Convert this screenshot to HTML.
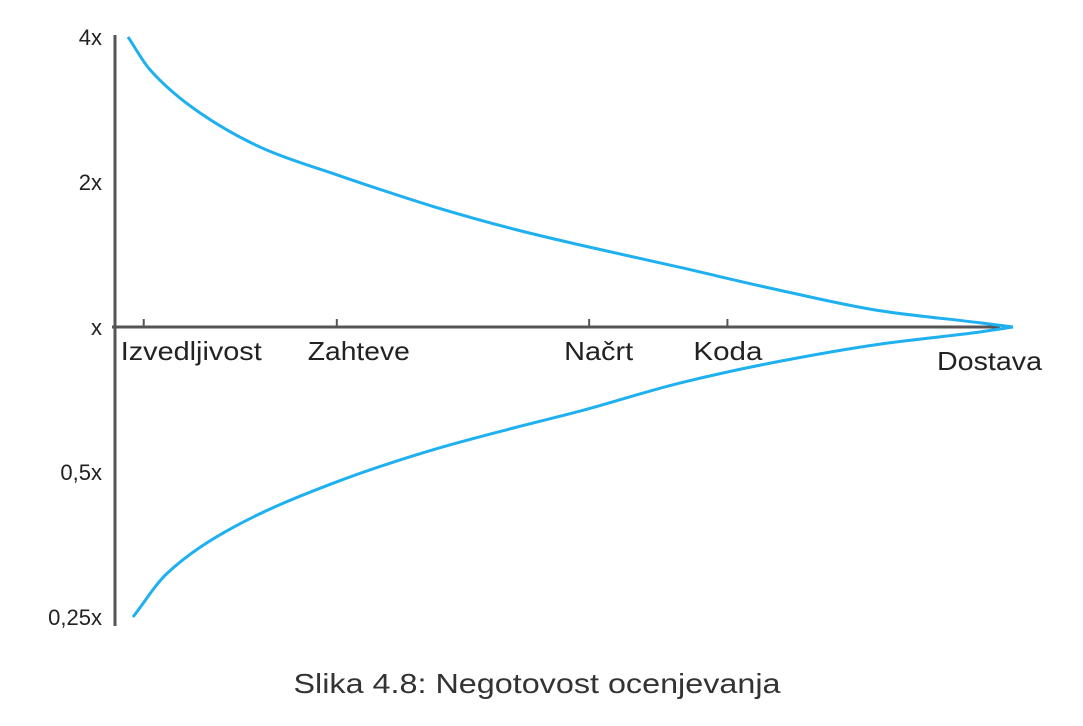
<!DOCTYPE html>
<html><head><meta charset="utf-8"><style>
html,body{margin:0;padding:0;background:#fff;width:1083px;height:726px;overflow:hidden}
svg{display:block;font-family:"Liberation Sans",sans-serif}
</style></head><body>
<svg id="chart" width="1083" height="726" viewBox="0 0 1083 726"></svg>
<script>
const phaseNames = ["Izvedljivost","Zahteve","Načrt","Koda","Dostava"];
const phasePos = [3.2, 24.7, 52.8, 68.2, 100];
const yTickValues = [4, 2, 1, 0.5, 0.25];
const yTickLabels = ["4x","2x","x","0,5x","0,25x"];
const upperT = [1.45, 3.9, 9.5, 16.9, 24.7, 35.4, 44.8, 51.8, 62.9, 74.2, 85.3, 96.4, 100];
const upperV = [4.0, 3.42, 2.78, 2.33, 2.07, 1.78, 1.59, 1.48, 1.33, 1.19, 1.08, 1.02, 1];
const lowerT = [2.0, 5.8, 13.2, 24.3, 35.4, 44.8, 51.8, 62.9, 74.2, 85.3, 96.4, 100];
const lowerV = [0.25, 0.308, 0.384, 0.474, 0.556, 0.620, 0.669, 0.765, 0.850, 0.922, 0.977, 1];

const NS="http://www.w3.org/2000/svg";
const svg=document.getElementById('chart');
const X0=115, X1=1013, Y1=327, PX2=145;
const xs=t=>X0+(X1-X0)*t/100;
const ys=v=>Y1-PX2*Math.log2(v);
function mk(tag,attrs,parent){const e=document.createElementNS(NS,tag);for(const k in attrs)e.setAttribute(k,attrs[k]);(parent||svg).appendChild(e);return e;}

let e=mk('line',{x1:X0,y1:35,x2:X0,y2:626,stroke:'#555','stroke-width':3});


e=mk('line',{x1:X0-3,y1:Y1,x2:1000,y2:Y1,stroke:'#555','stroke-width':3});



yTickValues.forEach((v,i)=>{
  const t=mk('text',{x:102,y:ys(v)+8,'text-anchor':'end','font-size':22,fill:'#222'});
  t.textContent=yTickLabels[i];
  
  
});

const labelOffset=[-23,-29,-25,-34,-76];
const labelWidth=[141,102,69,69,105];
phaseNames.forEach((n,i)=>{
  const x=xs(phasePos[i]);
  const last=i===phaseNames.length-1;
  if(!last){
    const tk=mk('line',{x1:x,y1:Y1-8,x2:x,y2:Y1,stroke:'#555','stroke-width':2});
    
    
  }
  const t=mk('text',{x:x+labelOffset[i],y:last?370:360,'font-size':26,fill:'#222',textLength:labelWidth[i],lengthAdjust:'spacingAndGlyphs'});
  t.textContent=n;
  
  
});

// monotone cubic (Fritsch–Carlson) path
function monoPath(T,V){
  const X=T.map(xs),Y=V.map(ys),n=X.length;
  const d=[],m=new Array(n);
  for(let i=0;i<n-1;i++)d.push((Y[i+1]-Y[i])/(X[i+1]-X[i]));
  m[0]=d[0];m[n-1]=d[n-2];
  for(let i=1;i<n-1;i++){
    if(d[i-1]*d[i]<=0)m[i]=0;
    else{const h0=X[i]-X[i-1],h1=X[i+1]-X[i];const w1=2*h1+h0,w2=h1+2*h0;m[i]=(w1+w2)/(w1/d[i-1]+w2/d[i]);}
  }
  let p=`M${X[0]},${Y[0]}`;
  for(let i=0;i<n-1;i++){
    const h=(X[i+1]-X[i])/3;
    p+=` C${X[i]+h},${Y[i]+m[i]*h} ${X[i+1]-h},${Y[i+1]-m[i+1]*h} ${X[i+1]},${Y[i+1]}`;
  }
  return p;
}
e=mk('path',{d:monoPath(upperT,upperV),fill:'none',stroke:'#1eb0ef','stroke-width':3});


e=mk('path',{d:monoPath(lowerT,lowerV),fill:'none',stroke:'#1eb0ef','stroke-width':3});



e=mk('text',{x:537,y:693,'text-anchor':'middle','font-size':28,fill:'#333',textLength:487,lengthAdjust:'spacingAndGlyphs'});
e.textContent='Slika 4.8: Negotovost ocenjevanja';


</script>
</body></html>
